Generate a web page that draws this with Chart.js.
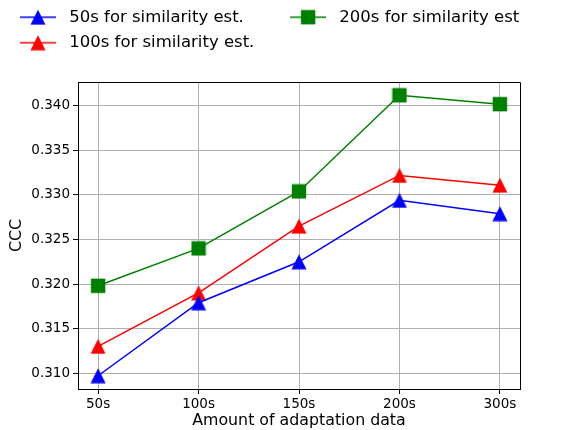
<!DOCTYPE html>
<html>
<head>
<meta charset="utf-8">
<script src="https://cdn.jsdelivr.net/npm/chart.js@4/dist/chart.umd.min.js"></script>
<style>
  html, body { margin: 0; padding: 0; background: #fff; }
  #wrap { width: 565px; height: 430px; }
</style>
</head>
<body>
<div id="wrap"><canvas id="myChart" width="565" height="430"></canvas></div>
<script>
// data
const xLabels = ['50s', '100s', '150s', '200s', '300s'];
const yTicks = [0.310, 0.315, 0.320, 0.325, 0.330, 0.335, 0.340];
const sim50 = [0.3097, 0.3179, 0.3225, 0.3294, 0.3279];
const sim100 = [0.3130, 0.3190, 0.3265, 0.3322, 0.3311];
const sim200 = [0.3198, 0.3240, 0.3304, 0.3412, 0.3402];
const legendOrder = [0, 2, 1];

Chart.defaults.font.family = 'DejaVu Sans';
Chart.defaults.color = '#000';

// matplotlib-ish markers, drawn centred on the point
function markerIcon(shape, color, withLine) {
  const c = document.createElement('canvas');
  c.width = withLine ? 52 : 16;
  c.height = 16;
  const g = c.getContext('2d');
  const cx = withLine ? 29 : 8, cy = 8;
  if (withLine) {
    g.strokeStyle = color;
    g.lineWidth = 1.5;
    g.beginPath();
    g.moveTo(11, cy);
    g.lineTo(47, cy);
    g.stroke();
  }
  g.fillStyle = color;
  g.beginPath();
  if (shape === 'tri') {
    g.moveTo(cx, cy - 7.5);
    g.lineTo(cx - 7.5, cy + 7.5);
    g.lineTo(cx + 7.5, cy + 7.5);
    g.closePath();
  } else {
    g.rect(cx - 7.2, cy - 7.2, 14.4, 14.4);
  }
  g.fill();
  return c;
}

const colors = ['#0000ff', '#ff0000', '#008000'];
const shapes = ['tri', 'tri', 'sq'];
const pointIcons = colors.map((c, i) => markerIcon(shapes[i], c, false));
const legendIcons = colors.map((c, i) => markerIcon(shapes[i], c, true));

function toPoints(arr) {
  return arr.map((v, i) => ({x: i, y: v}));
}

function makeSet(label, values, i) {
  return {
    label: label,
    data: toPoints(values),
    borderColor: colors[i],
    backgroundColor: colors[i],
    borderWidth: 1.5,
    pointStyle: pointIcons[i],
    pointRadius: 7,
    pointHoverRadius: 7,
    tension: 0,
    fill: false
  };
}

const frame = {
  id: 'frame',
  beforeInit(chart) {
    const fit = chart.legend.fit;
    chart.legend.fit = function () {
      this.maxWidth = chart.width;
      fit.call(this);
      this.height = 82;
    };
  },
  afterLayout(chart) {
    // let the legend run past the plot's right edge like matplotlib's does
    chart.legend.right = chart.width;
    chart.legend.width = chart.width;
  },
  afterDraw(chart) {
    // top and right spines
    const a = chart.chartArea, ctx = chart.ctx;
    const l = Math.floor(a.left) + 0.5, t = Math.floor(a.top) + 0.5;
    const r = Math.floor(a.right) + 0.5, b = Math.floor(a.bottom) + 0.5;
    ctx.save();
    ctx.strokeStyle = '#000';
    ctx.lineWidth = 1;
    ctx.beginPath();
    ctx.moveTo(l, t);
    ctx.lineTo(r, t);
    ctx.lineTo(r, b);
    ctx.stroke();
    ctx.restore();
  }
};

var ctx = document.getElementById('myChart');
var myLineChart = new Chart(ctx, {
  type: 'line',
  data: {
    datasets: [
      makeSet('50s for similarity est.', sim50, 0),
      makeSet('100s for similarity est.', sim100, 1),
      makeSet('200s for similarity est', sim200, 2)
    ]
  },
  options: {
    responsive: false,
    animation: false,
    layout: { padding: { left: 0, right: 45, top: 0, bottom: 0 } },
    plugins: {
      tooltip: { enabled: false },
      legend: {
        position: 'top',
        align: 'start',
        labels: {
          font: { size: 16.5 },
          color: '#000',
          usePointStyle: true,
          pointStyleWidth: 52,
          padding: 9,
          generateLabels(chart) {
            const items = Chart.defaults.plugins.legend.labels.generateLabels(chart);
            items.forEach(it => { it.pointStyle = legendIcons[it.datasetIndex]; });
            items[0].text += '\u00a0\u00a0\u00a0\u00a0\u00a0';
            return items;
          },
          sort: (a, b) => legendOrder.indexOf(a.datasetIndex) - legendOrder.indexOf(b.datasetIndex)
        }
      }
    },
    scales: {
      x: {
        type: 'linear',
        min: -0.2,
        max: 4.2,
        afterBuildTicks: s => { s.ticks = xLabels.map((l, i) => ({value: i})); },
        afterFit: s => { s.height = 41; },
        ticks: {
          font: { size: 13.5 },
          color: '#000',
          padding: 2,
          maxRotation: 0,
          callback: v => xLabels[v]
        },
        grid: { color: '#b0b0b0', lineWidth: 1, tickLength: 5, tickColor: '#000' },
        border: { color: '#000', width: 1 },
        title: {
          display: true,
          text: 'Amount of adaptation data',
          font: { size: 15.8 },
          color: '#000',
          padding: { top: 0, bottom: 0 }
        }
      },
      y: {
        type: 'linear',
        min: 0.30821,
        max: 0.34269,
        afterBuildTicks: s => { s.ticks = yTicks.map(v => ({value: v})); },
        afterFit: s => { s.width = 78; },
        ticks: {
          font: { size: 13.5 },
          color: '#000',
          padding: 3,
          callback: v => v.toFixed(3)
        },
        grid: { color: '#b0b0b0', lineWidth: 1, tickLength: 5, tickColor: '#000' },
        border: { color: '#000', width: 1 },
        title: {
          display: true,
          text: 'CCC',
          font: { size: 15.8 },
          color: '#000',
          padding: { top: 7.5, bottom: 0 }
        }
      }
    }
  },
  plugins: [frame]
});
</script>
</body>
</html>
